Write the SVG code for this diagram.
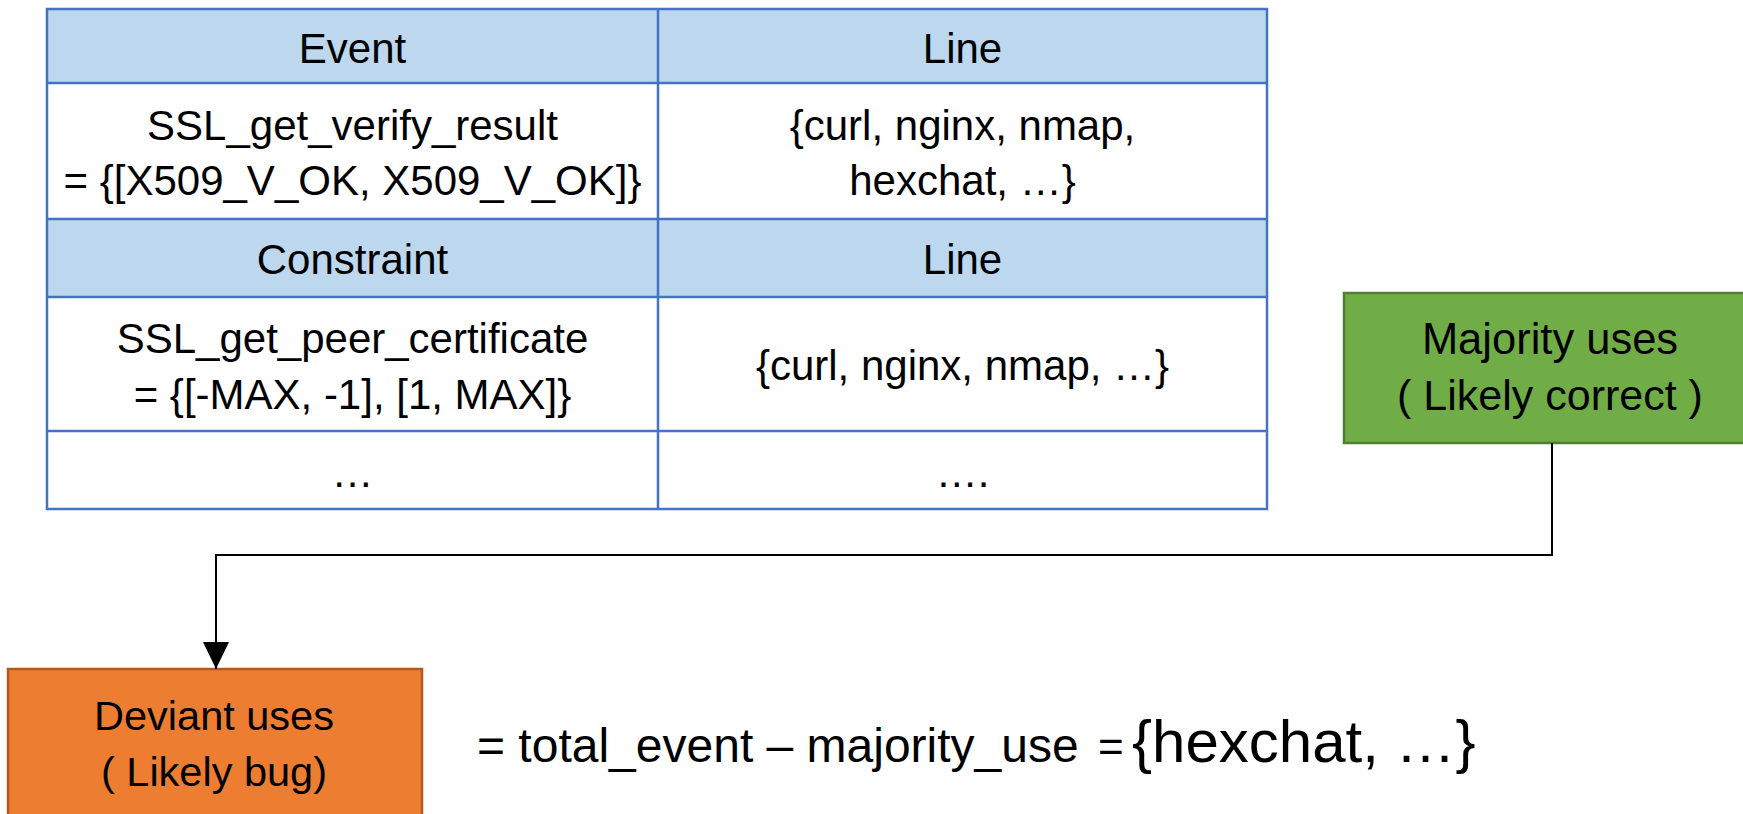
<svg xmlns="http://www.w3.org/2000/svg" width="1743" height="814" viewBox="0 0 1743 814">
<style>
text{font-family:"Liberation Sans",Arial,sans-serif;fill:#000;text-anchor:middle}
.t{font-size:42px}
.hdr{fill:#BDD7EE}
.grid{stroke:#4472C4;stroke-width:2.5;fill:none}
.conn{stroke:#000;stroke-width:2;fill:none}
</style>
<defs>
<marker id="arr" markerUnits="userSpaceOnUse" markerWidth="28" markerHeight="26" viewBox="0 0 28 26" refX="27" refY="13" orient="auto">
<path d="M0 0 L27 13 L0 26 Z" fill="#000"/>
</marker>
</defs>
<rect width="1743" height="814" fill="#fff"/>
<g id="table">
<rect class="hdr" x="47" y="9" width="1220" height="74"/>
<rect class="hdr" x="47" y="219" width="1220" height="78"/>
<rect x="47" y="9" width="1220" height="500" class="grid"/>
<line class="grid" x1="47" y1="83" x2="1267" y2="83"/>
<line class="grid" x1="47" y1="219" x2="1267" y2="219"/>
<line class="grid" x1="47" y1="297" x2="1267" y2="297"/>
<line class="grid" x1="47" y1="431" x2="1267" y2="431"/>
<line class="grid" x1="658" y1="9" x2="658" y2="509"/>
<text class="t" x="352.5" y="63">Event</text>
<text class="t" x="962.5" y="63">Line</text>
<text class="t" x="352.5" y="140">SSL_get_verify_result</text>
<text class="t" x="352.5" y="195">= {[X509_V_OK, X509_V_OK]}</text>
<text class="t" x="962.5" y="140">{curl, nginx, nmap,</text>
<text class="t" x="962.5" y="195">hexchat, …}</text>
<text class="t" x="352.5" y="274">Constraint</text>
<text class="t" x="962.5" y="274">Line</text>
<text class="t" x="352.5" y="353">SSL_get_peer_certificate</text>
<text class="t" x="352.5" y="409">= {[-MAX, -1], [1, MAX]}</text>
<text class="t" x="962.5" y="380">{curl, nginx, nmap, …}</text>
<text class="t" x="352.5" y="487">…</text>
<text class="t" x="962.5" y="487">….</text>
</g>
<g id="majority">
<rect x="1344" y="293" width="416" height="150" fill="#70AD47" stroke="#507E32" stroke-width="2.5"/>
<text x="1550" y="354" style="font-size:43.5px">Majority uses</text>
<text x="1550" y="410" style="font-size:43px">( Likely correct )</text>
</g>
<g id="deviant">
<rect x="8" y="669" width="414" height="150" fill="#ED7D31" stroke="#AE5A21" stroke-width="2.5"/>
<text x="214" y="730" style="font-size:41.5px">Deviant uses</text>
<text x="214" y="786" style="font-size:41.5px">( Likely bug)</text>
</g>
<g id="connectors">
<path class="conn" d="M1552 443 V555 H216 V669" marker-end="url(#arr)"/>
</g>
<g id="formula">
<text y="762" style="text-anchor:start;font-size:48px"><tspan x="477">= total_event – majority_use</tspan><tspan x="1098" style="font-size:44px">=</tspan><tspan x="1132" style="font-size:60px">{hexchat, …}</tspan></text>
</g>
</svg>
